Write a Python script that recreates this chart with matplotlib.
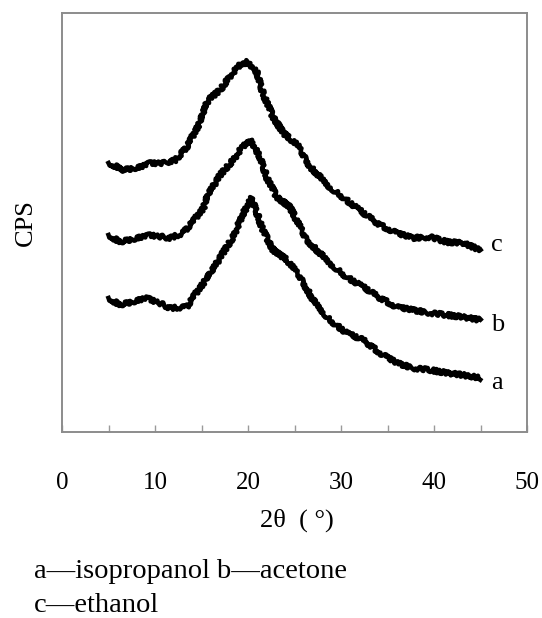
import numpy as np
import matplotlib
matplotlib.use("Agg")
import matplotlib.pyplot as plt
from matplotlib.ticker import MultipleLocator

plt.rcParams['font.family'] = ['Liberation Serif', 'Noto Sans CJK SC', 'DejaVu Sans']

# (2theta in degrees, intensity in arbitrary units)
theta_a = [5.0, 6.2, 9.1, 10.5, 11.6, 13.4, 14.1, 15.2, 16.2, 17.3, 18.4, 19.5, 20.4,
           21.6, 22.7, 24.2, 25.6, 27.0, 28.8, 30.6, 32.4, 34.2, 36.0, 37.7, 39.6,
           41.4, 43.1, 45.0]
cps_a = [134, 127, 134, 129, 124, 125, 135, 149, 162, 179, 195, 219, 234,
         202, 182, 172, 155, 132, 112, 99, 92, 79, 69, 64, 62,
         59, 57, 54]

theta_b = [5.0, 6.2, 9.5, 11.6, 13.0, 14.1, 15.2, 15.7, 17.0, 18.4, 19.4, 20.2,
           21.3, 22.0, 23.1, 24.5, 26.3, 28.8, 30.6, 32.4, 34.2, 36.0, 37.7, 39.6,
           41.4, 43.1, 45.0]
cps_b = [197, 190, 197, 194, 199, 211, 224, 237, 257, 272, 285, 292,
         275, 255, 235, 225, 192, 169, 155, 145, 134, 125, 122, 119,
         117, 115, 112]

theta_c = [5.0, 6.6, 8.4, 9.5, 11.0, 12.2, 13.4, 14.8, 15.7, 17.0, 18.0, 19.1, 19.9,
           21.0, 21.6, 22.7, 23.8, 25.3, 26.7, 28.8, 31.0, 32.4, 34.2, 36.0, 37.7,
           39.6, 41.4, 43.1, 45.0]
cps_c = [269, 262, 265, 269, 269, 272, 285, 309, 332, 342, 355, 367, 370,
         359, 339, 315, 299, 287, 265, 245, 229, 219, 207, 199, 194,
         195, 190, 189, 182]

labels = ['a', 'b', 'c']
label_shift = [-5, -5, 5]
caption = ['a\u2014isopropanol b\u2014acetone', 'c\u2014ethanol']

fig = plt.figure(figsize=(5.42, 6.18), dpi=100)
ax = fig.add_axes([62/542, 1 - 432/618, 465/542, 419.5/618])

for th, y, lab, dy in zip([theta_a, theta_b, theta_c], [cps_a, cps_b, cps_c],
                          labels, label_shift):
    line, = ax.plot(th, y, color='black', lw=3.3, solid_joinstyle='round')
    line.set_sketch_params(scale=2.0, length=2.0, randomness=8)
    ax.text(46.1, y[-1] + dy, lab, fontsize=19, va='center', ha='left')

ax.set_xlim(0, 50)
ax.set_ylim(0, 419.5)
ax.set_yticks([])
ax.xaxis.set_major_locator(MultipleLocator(10))
ax.xaxis.set_minor_locator(MultipleLocator(5))
ax.tick_params(axis='x', which='both', direction='in', length=5, width=1,
               color='#9a9a9a', labelsize=18, pad=29)
for s in ax.spines.values():
    s.set_color('#8c8c8c')
    s.set_linewidth(1.4)

fig.text(297/542, 1 - 520/618, '2\u03b8  ( \u00b0)', fontsize=19,
         ha='center', va='center')
fig.text(26/542, 1 - 223/618, 'CPS', fontsize=19, rotation=90,
         ha='center', va='center')
fig.text(34/542, 1 - 572/618, caption[0], fontsize=20.5, ha='left', va='center')
fig.text(34/542, 1 - 606/618, caption[1], fontsize=20.5, ha='left', va='center')

fig.savefig('out.png', dpi=100)
